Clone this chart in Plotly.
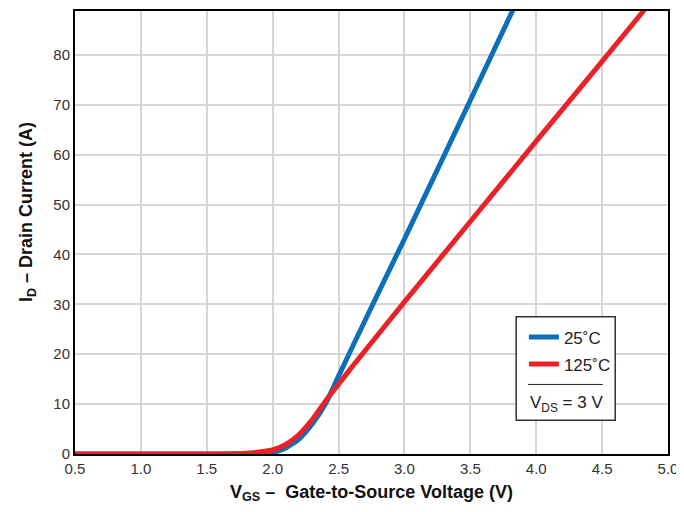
import plotly.graph_objects as go

vgs_25 = [0.5, 1.0, 1.5, 1.8, 1.9, 2.0, 2.1, 2.2, 2.3, 2.4, 2.5, 2.6, 2.8, 3.0, 3.5, 3.823]
id_25 = [0, 0, 0, 0.02, 0.1, 0.3, 1.2, 3.0, 6.0, 10.0, 15.6, 21.2, 32.2, 43.1, 70.9, 89.0]

vgs_125 = [0.5, 1.0, 1.5, 1.7, 1.8, 1.9, 2.0, 2.1, 2.2, 2.3, 2.4, 2.5, 2.6, 3.0, 3.5, 4.0, 4.5, 4.82]
id_125 = [0, 0, 0, 0.05, 0.15, 0.4, 0.8, 1.9, 3.9, 6.9, 10.6, 14.0, 17.4, 30.5, 46.6, 62.7, 78.7, 89.0]

series_names = ["25˚C", "125˚C"]
x_ticks = [0.5, 1.0, 1.5, 2.0, 2.5, 3.0, 3.5, 4.0, 4.5, 5.0]
y_ticks = [0, 10, 20, 30, 40, 50, 60, 70, 80]

FONT = "Liberation Sans, Arial, sans-serif"

fig = go.Figure()
fig.add_trace(go.Scatter(x=vgs_25, y=id_25, mode="lines", name=series_names[0], legend="legend",
                         line=dict(color="#0b6fba", width=5, shape="spline", smoothing=0.5)))
fig.add_trace(go.Scatter(x=vgs_125, y=id_125, mode="lines", name=series_names[1], legend="legend2",
                         line=dict(color="#ec2027", width=5, shape="spline", smoothing=0.5)))

leg_common = dict(xanchor="left", yanchor="middle", bgcolor="rgba(0,0,0,0)", borderwidth=0,
                  font=dict(family=FONT, size=17, color="#222"), itemwidth=30)

fig.update_layout(
    width=676, height=504,
    margin=dict(l=67, r=16, t=1, b=58),
    plot_bgcolor="white", paper_bgcolor="white",
    font=dict(family=FONT, size=15, color="#333"),
    showlegend=True,
    legend=dict(x=0.757, y=0.263, **leg_common),
    legend2=dict(x=0.757, y=0.202, **leg_common),
    xaxis=dict(range=[0.5, 5.0], tickvals=x_ticks, tickformat=".1f",
               showgrid=True, gridcolor="#d6d6d6", gridwidth=1.5,
               showline=True, linecolor="black", linewidth=2, mirror=True,
               ticks="", zeroline=False,
               title=dict(text="<b>V<sub>GS</sub> –  Gate-to-Source Voltage (V)</b>",
                          font=dict(family=FONT, size=18, color="#111"), standoff=9)),
    yaxis=dict(range=[0, 88.8], tickvals=y_ticks,
               showgrid=True, gridcolor="#d6d6d6", gridwidth=1.5,
               showline=True, linecolor="black", linewidth=2, mirror=True,
               ticks="", zeroline=False),
)

# y axis title placed as annotation
fig.add_annotation(xref="paper", yref="paper", x=0, y=0.546, xanchor="center", yanchor="middle",
                   xshift=-48, showarrow=False, textangle=-90,
                   text="<b>I<sub>D</sub> – Drain Current (A)</b>",
                   font=dict(family=FONT, size=18, color="#111"))

# legend frame, separator and condition text
fig.add_shape(type="rect", xref="paper", yref="paper", x0=0.744, x1=0.911, y0=0.076, y1=0.310,
              line=dict(color="#333", width=1.5), fillcolor="white", layer="above")
fig.add_shape(type="line", xref="paper", yref="paper", x0=0.764, x1=0.890, y0=0.157, y1=0.157,
              line=dict(color="#222", width=1), layer="above")
fig.add_annotation(xref="paper", yref="paper", x=0.829, y=0.112, xanchor="center", yanchor="middle",
                   showarrow=False, text="V<sub>DS</sub> = 3 V",
                   font=dict(family=FONT, size=17, color="#222"))

fig.write_html("out.html")
